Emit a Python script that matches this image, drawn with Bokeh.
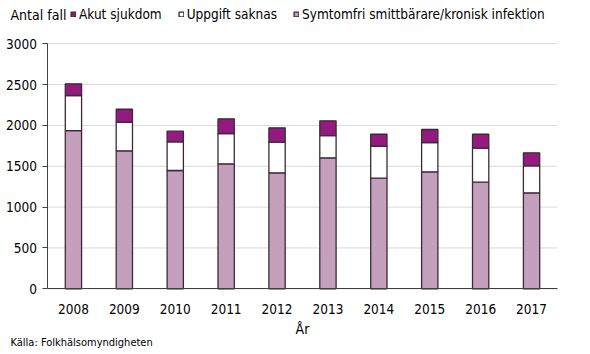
from bokeh.plotting import figure
from bokeh.models import (Range1d, FixedTicker, Legend, LegendItem, Label)
from bokeh.embed import file_html
from bokeh.resources import INLINE

years = ["2008", "2009", "2010", "2011", "2012", "2013", "2014", "2015", "2016", "2017"]
symtomfri = [1937, 1689, 1448, 1530, 1420, 1603, 1354, 1432, 1305, 1175]
uppgift_saknas = [429, 350, 351, 371, 375, 273, 391, 359, 416, 331]
akut = [143, 159, 130, 180, 176, 180, 147, 159, 171, 159]
y_ticks = [0, 500, 1000, 1500, 2000, 2500, 3000]

FONT = "DejaVu Sans Condensed"
PINK = "#c4a0bc"
PURPLE = "#951a80"
EDGE = "#3b2a36"
AXIS = "#404040"

n = len(years)
xpos = [i + 0.5 for i in range(n)]

p = figure(width=590, height=354, x_range=Range1d(-0.933, n + 0.658),
           y_range=Range1d(-804, 3529), output_backend="svg", toolbar_location=None,
           min_border_left=0, min_border_right=0, min_border_top=0, min_border_bottom=0)
p.outline_line_color = None
p.background_fill_color = "white"
p.border_fill_color = "white"
p.grid.visible = False

# horizontal gridlines spanning the category area only
p.segment(x0=[0] * len(y_ticks), x1=[n] * len(y_ticks), y0=y_ticks, y1=y_ticks,
          line_color="#d9d9d9", line_width=1)

data = dict(x=xpos, symtomfri=symtomfri, uppgift=uppgift_saknas, akut=akut)
rs = p.vbar_stack(["symtomfri", "uppgift", "akut"], x="x", width=0.32, source=data,
                  fill_color=[PINK, "white", PURPLE], line_color=EDGE, line_width=1.3)

# axes
p.yaxis.fixed_location = 0
p.yaxis.bounds = (0, 3000)
p.yaxis.ticker = FixedTicker(ticks=y_ticks)
p.yaxis.minor_tick_line_color = None
p.yaxis.major_tick_out = 5
p.yaxis.major_tick_in = 0
p.yaxis.major_label_standoff = 6
p.yaxis.axis_line_color = AXIS
p.yaxis.major_tick_line_color = AXIS

p.xaxis.fixed_location = 0
p.xaxis.bounds = (0, n)
p.xaxis.ticker = FixedTicker(ticks=xpos)
p.xaxis.major_label_overrides = {x: y for x, y in zip(xpos, years)}
p.xaxis.minor_tick_line_color = None
p.xaxis.major_tick_line_color = None
p.xaxis.major_tick_out = 0
p.xaxis.major_tick_in = 0
p.xaxis.axis_line_color = AXIS
p.xaxis.major_label_standoff = 15
p.xaxis.axis_label = "År"
p.xaxis.axis_label_standoff = 4
for ax in (p.xaxis, p.yaxis):
    ax.major_label_text_font = FONT
    ax.major_label_text_font_size = "13.5px"
    ax.major_label_text_color = "black"
p.xaxis.axis_label_text_font = FONT
p.xaxis.axis_label_text_font_size = "14px"
p.xaxis.axis_label_text_font_style = "normal"
p.xaxis.axis_label_text_color = "black"

legend = Legend(items=[LegendItem(label="Akut sjukdom", renderers=[rs[2]]),
                       LegendItem(label="Uppgift saknas", renderers=[rs[1]]),
                       LegendItem(label="Symtomfri smittbärare/kronisk infektion", renderers=[rs[0]])],
                orientation="horizontal", location=(70, 332), padding=0, margin=0,
                spacing=16, label_standoff=3, glyph_width=6, glyph_height=6,
                border_line_color=None, background_fill_alpha=0,
                label_text_font=FONT, label_text_font_size="13.5px", label_text_color="black")
p.add_layout(legend, "center")

p.add_layout(Label(x=10, y=354 - 14, x_units="screen", y_units="screen", text="Antal fall",
                   text_font=FONT, text_font_size="14px", text_baseline="middle", text_color="black"))
p.add_layout(Label(x=10, y=354 - 342, x_units="screen", y_units="screen", text="Källa: Folkhälsomyndigheten",
                   text_font=FONT, text_font_size="11px", text_baseline="middle", text_color="black"))

open("out.html", "w").write(file_html(p, INLINE))
